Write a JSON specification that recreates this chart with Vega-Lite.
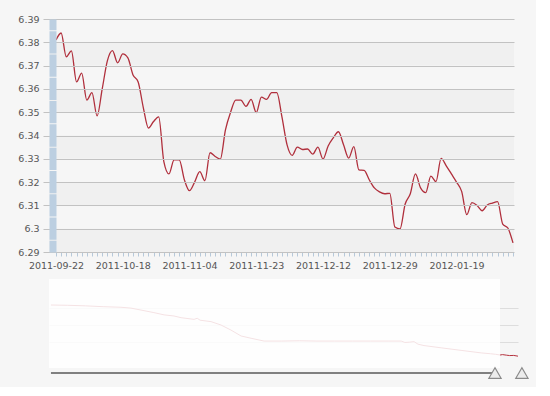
{
  "$schema": "https://vega.github.io/schema/vega-lite/v6.json",
  "background": "#f6f6f6",
  "padding": {"left": 17, "top": 14, "right": 5, "bottom": 5},
  "spacing": 9,
  "config": {
    "view": {"stroke": null},
    "axis": {"labelFont": "DejaVu Sans", "labelFontSize": 9.5, "labelColor": "#555555"}
  },
  "datasets": {
    "bands": [
      {"lo": 6.37, "hi": 6.38},
      {"lo": 6.35, "hi": 6.36},
      {"lo": 6.33, "hi": 6.34},
      {"lo": 6.31, "hi": 6.32},
      {"lo": 6.29, "hi": 6.30}
    ],
    "main": [
      {"date": "2011-09-22", "rate": 6.381},
      {"date": "2011-09-23", "rate": 6.384},
      {"date": "2011-09-26", "rate": 6.3738},
      {"date": "2011-09-27", "rate": 6.3763},
      {"date": "2011-09-28", "rate": 6.363},
      {"date": "2011-09-29", "rate": 6.3668},
      {"date": "2011-09-30", "rate": 6.3552},
      {"date": "2011-10-10", "rate": 6.3584},
      {"date": "2011-10-11", "rate": 6.3484},
      {"date": "2011-10-12", "rate": 6.360},
      {"date": "2011-10-13", "rate": 6.372},
      {"date": "2011-10-14", "rate": 6.3764},
      {"date": "2011-10-17", "rate": 6.3712},
      {"date": "2011-10-18", "rate": 6.375},
      {"date": "2011-10-19", "rate": 6.3733},
      {"date": "2011-10-20", "rate": 6.366},
      {"date": "2011-10-21", "rate": 6.363},
      {"date": "2011-10-24", "rate": 6.352},
      {"date": "2011-10-25", "rate": 6.3432},
      {"date": "2011-10-26", "rate": 6.346},
      {"date": "2011-10-27", "rate": 6.348},
      {"date": "2011-10-28", "rate": 6.3288},
      {"date": "2011-10-31", "rate": 6.3235},
      {"date": "2011-11-01", "rate": 6.3295},
      {"date": "2011-11-02", "rate": 6.3295},
      {"date": "2011-11-03", "rate": 6.321},
      {"date": "2011-11-04", "rate": 6.3163},
      {"date": "2011-11-07", "rate": 6.320},
      {"date": "2011-11-08", "rate": 6.3245},
      {"date": "2011-11-09", "rate": 6.3206},
      {"date": "2011-11-10", "rate": 6.3326},
      {"date": "2011-11-11", "rate": 6.331},
      {"date": "2011-11-14", "rate": 6.3299},
      {"date": "2011-11-15", "rate": 6.3424},
      {"date": "2011-11-16", "rate": 6.350},
      {"date": "2011-11-17", "rate": 6.3552},
      {"date": "2011-11-18", "rate": 6.3552},
      {"date": "2011-11-21", "rate": 6.3525},
      {"date": "2011-11-22", "rate": 6.3555},
      {"date": "2011-11-23", "rate": 6.3498},
      {"date": "2011-11-24", "rate": 6.3565},
      {"date": "2011-11-25", "rate": 6.3555},
      {"date": "2011-11-28", "rate": 6.3584},
      {"date": "2011-11-29", "rate": 6.3584},
      {"date": "2011-11-30", "rate": 6.348},
      {"date": "2011-12-01", "rate": 6.336},
      {"date": "2011-12-02", "rate": 6.3315},
      {"date": "2011-12-05", "rate": 6.335},
      {"date": "2011-12-06", "rate": 6.334},
      {"date": "2011-12-07", "rate": 6.3342},
      {"date": "2011-12-08", "rate": 6.332},
      {"date": "2011-12-09", "rate": 6.335},
      {"date": "2011-12-12", "rate": 6.3299},
      {"date": "2011-12-13", "rate": 6.3355},
      {"date": "2011-12-14", "rate": 6.339},
      {"date": "2011-12-15", "rate": 6.3416},
      {"date": "2011-12-16", "rate": 6.336},
      {"date": "2011-12-19", "rate": 6.3303},
      {"date": "2011-12-20", "rate": 6.3352},
      {"date": "2011-12-21", "rate": 6.3252},
      {"date": "2011-12-22", "rate": 6.325},
      {"date": "2011-12-23", "rate": 6.321},
      {"date": "2011-12-26", "rate": 6.3175},
      {"date": "2011-12-27", "rate": 6.3158},
      {"date": "2011-12-28", "rate": 6.315},
      {"date": "2011-12-29", "rate": 6.3152},
      {"date": "2011-12-30", "rate": 6.3007},
      {"date": "2012-01-04", "rate": 6.2999},
      {"date": "2012-01-05", "rate": 6.3106},
      {"date": "2012-01-06", "rate": 6.315},
      {"date": "2012-01-09", "rate": 6.3235},
      {"date": "2012-01-10", "rate": 6.3175},
      {"date": "2012-01-11", "rate": 6.3155},
      {"date": "2012-01-12", "rate": 6.3226},
      {"date": "2012-01-13", "rate": 6.3202},
      {"date": "2012-01-16", "rate": 6.3302},
      {"date": "2012-01-17", "rate": 6.327},
      {"date": "2012-01-18", "rate": 6.3235},
      {"date": "2012-01-19", "rate": 6.320},
      {"date": "2012-01-20", "rate": 6.316},
      {"date": "2012-01-30", "rate": 6.306},
      {"date": "2012-01-31", "rate": 6.3112},
      {"date": "2012-02-01", "rate": 6.310},
      {"date": "2012-02-02", "rate": 6.3077},
      {"date": "2012-02-03", "rate": 6.3102},
      {"date": "2012-02-06", "rate": 6.311},
      {"date": "2012-02-07", "rate": 6.3116},
      {"date": "2012-02-08", "rate": 6.302},
      {"date": "2012-02-09", "rate": 6.3003},
      {"date": "2012-02-10", "rate": 6.2939}
    ],
    "nav": [
      {"date": "2005-07-21", "rate": 8.11},
      {"date": "2005-10-15", "rate": 8.10},
      {"date": "2006-01-15", "rate": 8.08},
      {"date": "2006-04-15", "rate": 8.05},
      {"date": "2006-07-15", "rate": 8.03},
      {"date": "2006-09-04", "rate": 8.00},
      {"date": "2006-10-26", "rate": 7.93},
      {"date": "2006-12-31", "rate": 7.84},
      {"date": "2007-02-21", "rate": 7.76},
      {"date": "2007-04-13", "rate": 7.72},
      {"date": "2007-05-19", "rate": 7.66},
      {"date": "2007-07-25", "rate": 7.60},
      {"date": "2007-08-10", "rate": 7.64},
      {"date": "2007-08-25", "rate": 7.57},
      {"date": "2007-10-20", "rate": 7.52},
      {"date": "2007-12-10", "rate": 7.40},
      {"date": "2008-01-30", "rate": 7.22},
      {"date": "2008-03-22", "rate": 7.01},
      {"date": "2008-05-12", "rate": 6.93},
      {"date": "2008-07-18", "rate": 6.83},
      {"date": "2008-10-15", "rate": 6.83},
      {"date": "2009-01-15", "rate": 6.84},
      {"date": "2009-04-15", "rate": 6.83},
      {"date": "2009-07-15", "rate": 6.83},
      {"date": "2009-10-15", "rate": 6.83},
      {"date": "2010-01-15", "rate": 6.83},
      {"date": "2010-04-15", "rate": 6.83},
      {"date": "2010-06-21", "rate": 6.83},
      {"date": "2010-07-10", "rate": 6.78},
      {"date": "2010-08-01", "rate": 6.79},
      {"date": "2010-08-26", "rate": 6.81},
      {"date": "2010-09-15", "rate": 6.72},
      {"date": "2010-10-16", "rate": 6.67},
      {"date": "2011-01-12", "rate": 6.59},
      {"date": "2011-04-24", "rate": 6.50},
      {"date": "2011-08-05", "rate": 6.41},
      {"date": "2011-09-22", "rate": 6.38},
      {"date": "2011-10-18", "rate": 6.36},
      {"date": "2011-11-10", "rate": 6.335},
      {"date": "2011-11-23", "rate": 6.349},
      {"date": "2011-12-12", "rate": 6.33},
      {"date": "2011-12-29", "rate": 6.315},
      {"date": "2012-01-19", "rate": 6.32},
      {"date": "2012-02-10", "rate": 6.294}
    ],
    "mask": [{"start": "2005-07-11", "end": "2011-11-10", "lo": 5.874, "hi": 9.033}],
    "slider": [{"start": "2005-07-21", "end": "2011-10-15", "y": 5.697}],
    "handles": [{"date": "2011-10-15", "y": 5.697}, {"date": "2012-03-01", "y": 5.697}]
  },
  "vconcat": [
    {
      "width": 465,
      "height": 233,
      "layer": [
        {
          "data": {"name": "bands"},
          "mark": {"type": "rect", "fill": "#000000", "opacity": 0.022},
          "encoding": {
            "y": {
              "field": "lo", "type": "quantitative",
              "scale": {"domain": [6.29, 6.39], "nice": false, "zero": false},
              "axis": {
                "values": [6.29, 6.3, 6.31, 6.32, 6.33, 6.34, 6.35, 6.36, 6.37, 6.38, 6.39],
                "format": ".2~f", "title": null, "grid": true,
                "gridColor": "#c2c2c2", "tickColor": "#c2c2c2", "tickSize": 9.5,
                "offset": -3.5, "labelPadding": 4,
                "domainColor": "#bccfe1", "domainWidth": 7,
                "domainDash": [22.3, 1], "domainDashOffset": 10.65, "zindex": 1
              }
            },
            "y2": {"field": "hi"}
          }
        },
        {
          "data": {"name": "main"},
          "mark": {"type": "line", "interpolate": "monotone", "color": "#b02f3c", "strokeWidth": 1.3},
          "encoding": {
            "x": {
              "field": "date", "type": "ordinal", "sort": null,
              "scale": {"type": "point", "padding": 0.779, "align": 0.875},
              "axis": {
                "title": null, "labelAngle": 0, "domain": false, "grid": false,
                "tickColor": "#b7c9da", "tickSize": 4, "labelPadding": 4, "labelOverlap": false,
                "labelExpr": "indexof(['2011-09-22','2011-10-18','2011-11-04','2011-11-23','2011-12-12','2011-12-29','2012-01-19'], datum.value) >= 0 ? datum.value : ''"
              }
            },
            "y": {
              "field": "rate", "type": "quantitative",
              "scale": {"domain": [6.29, 6.39], "nice": false, "zero": false},
              "axis": {
                "values": [6.29, 6.3, 6.31, 6.32, 6.33, 6.34, 6.35, 6.36, 6.37, 6.38, 6.39],
                "format": ".2~f", "title": null, "grid": true,
                "gridColor": "#c2c2c2", "tickColor": "#c2c2c2", "tickSize": 9.5,
                "offset": -3.5, "labelPadding": 4,
                "domainColor": "#bccfe1", "domainWidth": 7,
                "domainDash": [22.3, 1], "domainDashOffset": 10.65, "zindex": 1
              }
            }
          }
        }
      ]
    },
    {
      "width": 469,
      "height": 103,
      "layer": [
        {
          "data": {"name": "nav"},
          "mark": {"type": "line", "color": "#b5323e", "strokeWidth": 1},
          "encoding": {
            "x": {
              "field": "date", "type": "temporal",
              "scale": {"domain": ["2005-07-11", "2012-02-10"], "nice": false},
              "axis": null
            },
            "y": {
              "field": "rate", "type": "quantitative",
              "scale": {"domain": [5.377, 9.033], "nice": false, "zero": false},
              "axis": {"values": [8.0, 7.4, 6.8], "grid": true, "gridColor": "#dddddd", "labels": false, "ticks": false, "domain": false, "title": null}
            }
          }
        },
        {
          "data": {"name": "mask"},
          "mark": {"type": "rect", "fill": "#ffffff", "opacity": 0.86},
          "encoding": {
            "x": {"field": "start", "type": "temporal"},
            "x2": {"field": "end"},
            "y": {"field": "lo", "type": "quantitative"},
            "y2": {"field": "hi"}
          }
        },
        {
          "data": {"name": "slider"},
          "mark": {"type": "rule", "color": "#808080", "strokeWidth": 2},
          "encoding": {
            "x": {"field": "start", "type": "temporal"},
            "x2": {"field": "end"},
            "y": {"field": "y", "type": "quantitative"}
          }
        },
        {
          "data": {"name": "handles"},
          "mark": {"type": "point", "shape": "triangle-up", "filled": true, "fill": "#ececec", "stroke": "#8a8a8a", "strokeWidth": 1.2, "size": 150, "opacity": 1},
          "encoding": {
            "x": {"field": "date", "type": "temporal"},
            "y": {"field": "y", "type": "quantitative"}
          }
        }
      ]
    }
  ]
}
